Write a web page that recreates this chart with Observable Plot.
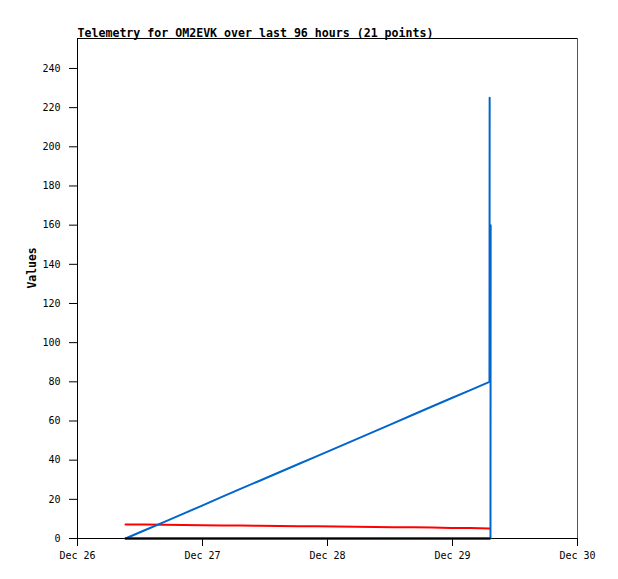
<!DOCTYPE html>
<html>
<head>
<meta charset="utf-8">
<script src="https://cdn.jsdelivr.net/npm/d3@7"></script>
<script src="https://cdn.jsdelivr.net/npm/@observablehq/plot@0.6"></script>
<style>
  html, body { margin: 0; padding: 0; background: #fff; }
</style>
</head>
<body>
<div id="chart"></div>
<script>
const titleText = "Telemetry for OM2EVK over last 96 hours (21 points)";
const yLabel = "Values";

const times = [
  "2023-12-26T09:13Z", "2023-12-26T12:54Z", "2023-12-26T16:35Z", "2023-12-26T20:15Z", "2023-12-26T23:56Z",
  "2023-12-27T03:37Z", "2023-12-27T07:17Z", "2023-12-27T10:58Z", "2023-12-27T14:39Z", "2023-12-27T18:20Z",
  "2023-12-27T22:00Z", "2023-12-28T01:41Z", "2023-12-28T05:22Z", "2023-12-28T09:02Z", "2023-12-28T12:43Z",
  "2023-12-28T16:24Z", "2023-12-28T20:04Z", "2023-12-28T23:45Z", "2023-12-29T03:26Z", "2023-12-29T07:06Z",
  "2023-12-29T07:08Z"
];
const seriesBlue1 = [0, 4.2, 8.4, 12.6, 16.8, 21.1, 25.3, 29.5, 33.7, 37.9, 42.1, 46.3, 50.5, 54.7, 58.9, 63.2, 67.4, 71.6, 75.8, 80, 225];
const seriesBlue2 = [0, 0, 0, 0, 0, 0, 0, 0, 0, 0, 0, 0, 0, 0, 0, 0, 0, 0, 0, 0, 160];
const seriesRed   = [7.2, 7.1, 7.0, 6.9, 6.8, 6.7, 6.6, 6.5, 6.4, 6.3, 6.2, 6.1, 6.0, 5.9, 5.8, 5.7, 5.6, 5.4, 5.3, 5.1, 5.0];
const seriesBlack = [0, 0, 0, 0, 0, 0, 0, 0, 0, 0, 0, 0, 0, 0, 0, 0, 0, 0, 0, 0, 0];

const xTicks = ["2023-12-26T00:00Z", "2023-12-27T00:00Z", "2023-12-28T00:00Z", "2023-12-29T00:00Z", "2023-12-30T00:00Z"];
const yTicks = [0, 20, 40, 60, 80, 100, 120, 140, 160, 180, 200, 220, 240];

const parse = s => new Date(s);
const rows = (vals) => times.map((t, i) => ({t: parse(t), v: vals[i]}));

const chart = Plot.plot({
  width: 618,
  height: 579,
  marginLeft: 77,
  marginRight: 41,
  marginTop: 38,
  marginBottom: 41,
  style: {fontFamily: "DejaVu Sans Mono", fontSize: "10px", color: "#000", background: "#fff"},
  x: {
    type: "utc",
    domain: [parse(xTicks[0]), parse(xTicks[xTicks.length - 1])],
    ticks: xTicks.map(parse),
    tickFormat: d3.utcFormat("%b %d"),
    tickSize: 8,
    tickPadding: 5,
    label: null
  },
  y: {
    domain: [0, 255.3],
    ticks: yTicks,
    tickSize: 8,
    tickPadding: 9,
    label: null
  },
  marks: [
    Plot.frame({stroke: "#000", strokeWidth: 1}),
    Plot.ruleX([parse(xTicks[xTicks.length - 1])], {stroke: "#555"}),
    Plot.line(rows(seriesRed), {x: "t", y: "v", stroke: "#ff0000", strokeWidth: 2}),
    Plot.line(rows(seriesBlue1), {x: "t", y: "v", stroke: "#0066cc", strokeWidth: 2}),
    Plot.line(rows(seriesBlue2), {x: "t", y: "v", stroke: "#0066cc", strokeWidth: 2, dx: 1}),
    Plot.line(rows(seriesBlack), {x: "t", y: "v", stroke: "#000", strokeWidth: 2}),
    Plot.text([titleText], {frameAnchor: "top-left", textAnchor: "start", lineAnchor: "bottom", dy: -2, fontWeight: "bold", fontSize: 11.6}),
    Plot.text([yLabel], {frameAnchor: "left", dx: -45, rotate: -90, fontWeight: "bold", fontSize: 11.4})
  ]
});
document.getElementById("chart").appendChild(chart);
</script>
</body>
</html>
